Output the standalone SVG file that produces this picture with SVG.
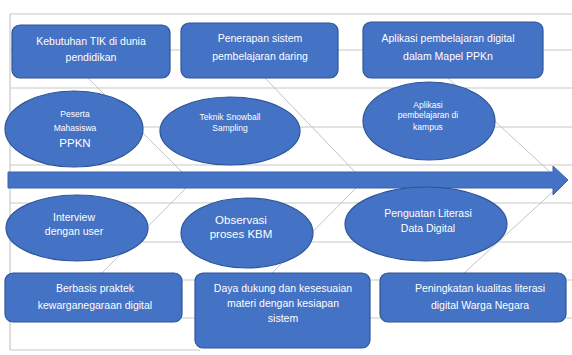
<svg xmlns="http://www.w3.org/2000/svg" width="572" height="355" viewBox="0 0 572 355">
<style>
.grid{stroke:#c8c8c8;stroke-width:1.2;fill:none}
.diag{stroke:#c4c4c4;stroke-width:1;fill:none}
.node{fill:#4472c4;stroke:#2f5597;stroke-width:1.2}
text{font-family:"Liberation Sans",Arial,sans-serif;fill:#ffffff;text-anchor:middle}
.t{font-size:10.5px}
.s{font-size:8.5px}
.m{font-size:10.5px}
.l{font-size:11.5px}
</style>
<rect x="0" y="0" width="572" height="355" fill="#ffffff"/>
<g id="connectors">
<line class="grid" x1="10" y1="14" x2="572" y2="14" stroke="#e8d8c8"/>
<line class="grid" x1="10" y1="50" x2="572" y2="50"/>
<line class="grid" x1="10" y1="88" x2="572" y2="88"/>
<line class="grid" x1="10" y1="127" x2="572" y2="127"/>
<line class="grid" x1="10" y1="165" x2="572" y2="165"/>
<line class="grid" x1="10" y1="203" x2="572" y2="203"/>
<line class="grid" x1="10" y1="242" x2="572" y2="242"/>
<line class="grid" x1="10" y1="280" x2="572" y2="280"/>
<line class="grid" x1="10" y1="318" x2="572" y2="318"/>
<line class="grid" x1="10" y1="350" x2="200" y2="350" stroke="#e4e4e4"/>
<line class="grid" x1="10" y1="14" x2="10" y2="350" stroke="#e4e4e4"/>
<line class="diag" x1="88" y1="78" x2="182" y2="172"/>
<line class="diag" x1="265" y1="78" x2="355" y2="172"/>
<line class="diag" x1="448" y1="78" x2="550" y2="172"/>
<line class="diag" x1="100" y1="275" x2="186" y2="188"/>
<line class="diag" x1="270" y1="275" x2="356" y2="188"/>
<line class="diag" x1="462" y1="275" x2="557" y2="188"/>
<path d="M8 172 L553 172 L553 166 L568 180 L553 195 L553 188 L8 188 Z" fill="#4472c4" stroke="#3a63ad" stroke-width="1"/>
</g>
<g id="n1"><rect class="node" x="12" y="25" width="158" height="53" rx="8"/><text class="t" x="91" y="45">Kebutuhan TIK di dunia</text><text class="t" x="91" y="61">pendidikan</text></g>
<g id="n2"><rect class="node" x="181" y="23" width="157" height="55" rx="8"/><text class="t" x="260" y="42">Penerapan sistem</text><text class="t" x="260" y="60">pembelajaran daring</text></g>
<g id="n3"><rect class="node" x="363" y="22" width="180" height="56" rx="8"/><text class="t" x="448" y="42">Aplikasi pembelajaran digital</text><text class="t" x="448" y="60">dalam Mapel PPKn</text></g>
<g id="n4"><ellipse class="node" cx="74" cy="129" rx="69" ry="38"/><text class="s" x="75" y="117">Peserta</text><text class="s" x="75" y="131">Mahasiswa</text><text class="l" x="75" y="147">PPKN</text></g>
<g id="n5"><ellipse class="node" cx="230" cy="131" rx="70" ry="34"/><text class="s" x="230" y="120">Teknik Snowball</text><text class="s" x="230" y="131">Sampling</text></g>
<g id="n6"><ellipse class="node" cx="429" cy="121" rx="66" ry="39"/><text class="s" x="428" y="108">Aplikasi</text><text class="s" x="428" y="118">pembelajaran di</text><text class="s" x="428" y="130">kampus</text></g>
<g id="n7"><ellipse class="node" cx="77" cy="228" rx="71" ry="33"/><text class="m" x="74" y="221">Interview</text><text class="m" x="74" y="235">dengan user</text></g>
<g id="n8"><ellipse class="node" cx="247" cy="233" rx="66" ry="35"/><text class="l" x="241" y="224">Observasi</text><text class="l" x="241" y="238">proses KBM</text></g>
<g id="n9"><ellipse class="node" cx="426" cy="224" rx="81" ry="37"/><text class="m" x="428" y="217">Penguatan Literasi</text><text class="m" x="428" y="232">Data Digital</text></g>
<g id="n10"><rect class="node" x="5" y="273" width="177" height="49" rx="8"/><text class="t" x="95" y="292">Berbasis praktek</text><text class="t" x="95" y="309">kewarganegaraan digital</text></g>
<g id="n11"><rect class="node" x="195" y="273" width="175" height="75" rx="8"/><text class="t" x="283" y="292">Daya dukung dan kesesuaian</text><text class="t" x="283" y="307">materi dengan kesiapan</text><text class="t" x="283" y="322">sistem</text></g>
<g id="n12"><rect class="node" x="380" y="273" width="186" height="49" rx="8"/><text class="t" x="480" y="292">Peningkatan kualitas literasi</text><text class="t" x="480" y="309">digital Warga Negara</text></g>
</svg>
